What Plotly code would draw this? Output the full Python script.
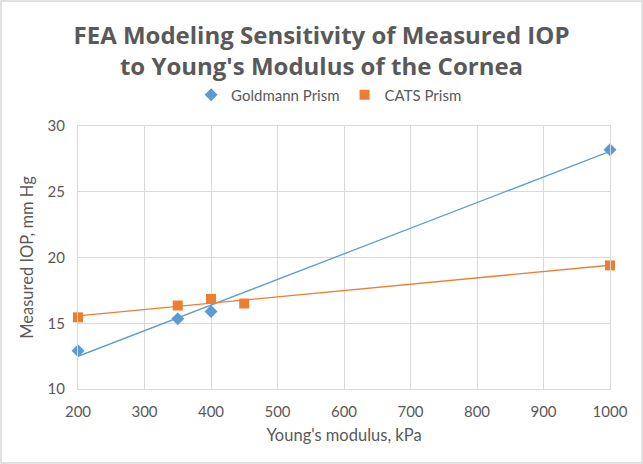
import numpy as np
import plotly.graph_objects as go

gold_x = [200, 350, 400, 1000]
gold_y = [12.9, 15.35, 15.9, 28.2]
cats_x = [200, 350, 400, 450, 1000]
cats_y = [15.45, 16.35, 16.85, 16.5, 19.4]
x_ticks = [200, 300, 400, 500, 600, 700, 800, 900, 1000]
y_ticks = [10, 15, 20, 25, 30]

BLUE = "#5b9bd5"
ORANGE = "#ed7d31"
GRAY = "#595959"
FONT = "Lato, Open Sans, sans-serif"

def trend(xs, ys):
    m, b = np.polyfit(xs, ys, 1)
    xx = np.array([min(xs), max(xs)])
    return xx, m * xx + b

fig = go.Figure()
tx, ty = trend(gold_x, gold_y)
fig.add_trace(go.Scatter(x=tx, y=ty, mode="lines", line=dict(color=BLUE, width=1.3),
                         showlegend=False, hoverinfo="skip", cliponaxis=False))
tx, ty = trend(cats_x, cats_y)
fig.add_trace(go.Scatter(x=tx, y=ty, mode="lines", line=dict(color=ORANGE, width=1.3),
                         showlegend=False, hoverinfo="skip", cliponaxis=False))
fig.add_trace(go.Scatter(x=gold_x, y=gold_y, mode="markers", name="Goldmann Prism",
                         marker=dict(symbol="diamond", size=10, color=BLUE), cliponaxis=False))
fig.add_trace(go.Scatter(x=cats_x, y=cats_y, mode="markers", name="CATS Prism",
                         marker=dict(symbol="square", size=10, color=ORANGE), cliponaxis=False))

fig.update_layout(
    width=643, height=464,
    paper_bgcolor="white", plot_bgcolor="white",
    margin=dict(l=78, r=33, t=126, b=75),
    font=dict(family=FONT, color=GRAY, size=14),
    title=dict(text="<b>FEA Modeling Sensitivity of Measured IOP<br>to Young's Modulus of the Cornea</b>",
               x=0.5, xanchor="center", y=0.905, yanchor="middle",
               font=dict(size=24, color=GRAY, family="Open Sans, sans-serif")),
    legend=dict(orientation="h", x=0.472, xanchor="center", y=1.055, yanchor="bottom",
                font=dict(size=15, color=GRAY), itemwidth=30, tracegroupgap=0),
    xaxis=dict(range=[200, 1000], tickvals=x_ticks, showgrid=True, gridcolor="#d9d9d9",
               showline=True, linecolor="#d9d9d9", zeroline=False,
               ticks="outside", ticklen=9, tickcolor="rgba(0,0,0,0)",
               title=dict(text="Young's modulus, kPa", font=dict(size=16.5, color=GRAY), standoff=10),
               tickfont=dict(size=15, color=GRAY)),
    yaxis=dict(range=[10, 30], tickvals=y_ticks, showgrid=True, gridcolor="#d9d9d9",
               showline=True, linecolor="#d9d9d9", zeroline=False,
               ticks="outside", ticklen=9, tickcolor="rgba(0,0,0,0)",
               title=dict(text="Measured IOP, mm Hg", font=dict(size=16.5, color=GRAY), standoff=9),
               tickfont=dict(size=15, color=GRAY)),
    shapes=[dict(type="rect", xref="paper", yref="paper", x0=-77/532, x1=1+32/532,
                 y0=-74/263, y1=1+125/263, line=dict(color="#d9d9d9", width=1.5))],
)
fig.update_xaxes(mirror=True)
fig.update_yaxes(mirror=True)
fig.write_html("out.html", config={"displayModeBar": False},
               post_script="document.body.style.margin='0';")
